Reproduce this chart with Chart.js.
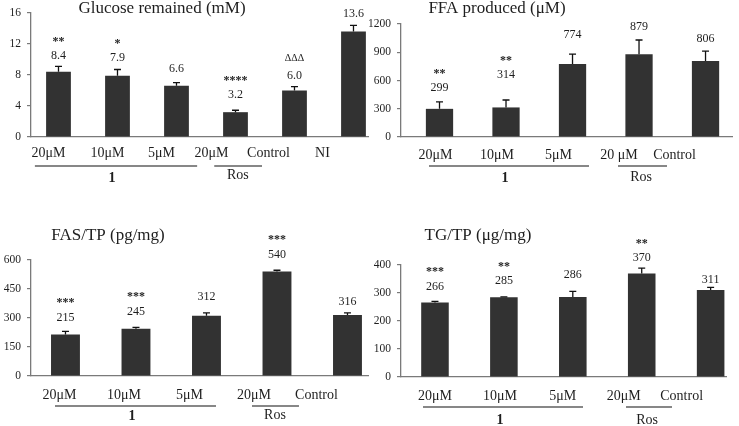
<!DOCTYPE html>
<html>
<head>
<meta charset="utf-8">
<script src="https://cdn.jsdelivr.net/npm/chart.js@4"></script>
<style>
  html, body { margin: 0; padding: 0; background: #ffffff; }
  #wrap { position: relative; width: 739px; height: 426px; overflow: hidden; }
  #wrap canvas { position: absolute; left: 0; top: 0; }
</style>
</head>
<body>
<div id="wrap">
  <canvas id="c1" width="739" height="426"></canvas>
  <canvas id="c2" width="739" height="426"></canvas>
  <canvas id="c3" width="739" height="426"></canvas>
  <canvas id="c4" width="739" height="426"></canvas>
</div>
<script>
// ---------------- DATA ----------------
const glucoseTitle = 'Glucose remained (mM)';
const glucoseCats = ['20μM', '10μM', '5μM', '20μM', 'Control', 'NI'];
const glucoseVals = [8.4, 7.9, 6.6, 3.2, 6.0, 13.6];
const glucoseErr  = [0.7, 0.8, 0.4, 0.25, 0.5, 0.8];
const glucoseSig  = ['**', '*', '', '****', 'ΔΔΔ', ''];
const glucoseTicks = [0, 4, 8, 12, 16];

const ffaTitle = 'FFA produced (μM)';
const ffaCats = ['20μM', '10μM', '5μM', '20 μM', 'Control'];
const ffaVals = [299, 314, 774, 879, 806];
const ffaErr  = [73, 79, 107, 151, 107];
const ffaSig  = ['**', '**', '', '', ''];
const ffaTicks = [0, 300, 600, 900, 1200];

const fasTitle = 'FAS/TP (pg/mg)';
const fasCats = ['20μM', '10μM', '5μM', '20μM', 'Control'];
const fasVals = [215, 245, 312, 540, 316];
const fasErr  = [16, 7, 14, 7, 10];
const fasSig  = ['***', '***', '', '***', ''];
const fasTicks = [0, 150, 300, 450, 600];

const tgTitle = 'TG/TP (μg/mg)';
const tgCats = ['20μM', '10μM', '5μM', '20μM', 'Control'];
const tgVals = [266, 285, 286, 370, 311];
const tgErr  = [4, 1, 20, 19, 9];
const tgSig  = ['***', '**', '', '**', ''];
const tgTicks = [0, 100, 200, 300, 400];

// group annotations: compound "1" spans first three categories, "Ros" the fourth
const groupNames = ['1', 'Ros'];

// ---------------- STYLE / LAYOUT ----------------
const SERIF = '"Liberation Serif", "DejaVu Serif", "Times New Roman", serif';
const AXIS_COLOR = '#7a7a7a';
const BAR_COLOR = '#323232';
const TEXT_COLOR = '#1e1e1e';

const panels = [
  {
    id: 'c1', title: glucoseTitle, cats: glucoseCats, vals: glucoseVals, err: glucoseErr, sig: glucoseSig, ticks: glucoseTicks,
    decimals: 1, yWidth: 30,
    pad: { left: 1, right: 371, top: 7, bottom: 289 },
    xMin: -0.466, xMax: 5.246, barPct: 0.42,
    titlePos: { x: 162, y: 9 },
    labelLift: [11, 12, 14, 15, 11, 11], sigLift: 17,
    xLabelShift: [-10, -10, -15, -24, -26, -31], xLabelDrop: 16,
    groups: [ { from: -0.40, to: 2.35, at: 0.906, lineDrop: 29, textDrop: 41, bold: true },
              { from: 2.64, to: 3.45, at: 3.04, lineDrop: 29, textDrop: 38, bold: false } ]
  },
  {
    id: 'c2', title: ffaTitle, cats: ffaCats, vals: ffaVals, err: ffaErr, sig: ffaSig, ticks: ffaTicks,
    decimals: 0, yWidth: 40,
    pad: { left: 361, right: 7, top: 24, bottom: 289 },
    xMin: -0.579, xMax: 4.398, barPct: 0.41,
    titlePos: { x: 497, y: 9 },
    labelLift: [14, 25, 19, 13, 12], sigLift: 17,
    xLabelShift: [-4, -9, -14, -20, -31], xLabelDrop: 18,
    groups: [ { from: -0.158, to: 2.248, at: 0.985, lineDrop: 29, textDrop: 41, bold: true },
              { from: 2.684, to: 3.421, at: 3.03, lineDrop: 29, textDrop: 40, bold: false } ]
  },
  {
    id: 'c3', title: fasTitle, cats: fasCats, vals: fasVals, err: fasErr, sig: fasSig, ticks: fasTicks,
    decimals: 0, yWidth: 30,
    pad: { left: 1, right: 371, top: 260, bottom: 50 },
    xMin: -0.489, xMax: 4.291, barPct: 0.41,
    titlePos: { x: 108, y: 236 },
    labelLift: [13, 15, 16, 15, 11], sigLift: 18,
    xLabelShift: [-6, -12, -17, -23, -31], xLabelDrop: 19,
    groups: [ { from: -0.149, to: 2.135, at: 0.943, lineDrop: 30, textDrop: 40, bold: true },
              { from: 2.645, to: 3.312, at: 2.972, lineDrop: 30, textDrop: 39, bold: false } ]
  },
  {
    id: 'c4', title: tgTitle, cats: tgCats, vals: tgVals, err: tgErr, sig: tgSig, ticks: tgTicks,
    decimals: 0, yWidth: 40,
    pad: { left: 361, right: 13, top: 265, bottom: 49 },
    xMin: -0.493, xMax: 4.223, barPct: 0.40,
    titlePos: { x: 478, y: 236 },
    labelLift: [15, 16, 16, 10, 8], sigLift: 17,
    xLabelShift: [0, -4, -10, -18, -29], xLabelDrop: 19,
    groups: [ { from: -0.174, to: 2.148, at: 0.943, lineDrop: 30, textDrop: 43, bold: true },
              { from: 2.772, to: 3.44, at: 3.077, lineDrop: 30, textDrop: 43, bold: false } ]
  }
];

const annotatePlugin = {
  id: 'annotate',
  afterDatasetsDraw(chart, args, opts) {
    const p = opts.panel;
    const ctx = chart.ctx;
    const ys = chart.scales.y;
    const meta = chart.getDatasetMeta(0);
    ctx.save();
    meta.data.forEach((el, i) => {
      const v = p.vals[i], e = p.err[i];
      const xc = el.x;
      const yBar = ys.getPixelForValue(v);
      const yErr = ys.getPixelForValue(v + e);
      // error bar (upper only)
      ctx.strokeStyle = '#111';
      ctx.lineWidth = 1.3;
      ctx.beginPath();
      ctx.moveTo(xc, yBar);
      ctx.lineTo(xc, yErr);
      ctx.moveTo(xc - 3.5, yErr);
      ctx.lineTo(xc + 3.5, yErr);
      ctx.stroke();
      // value label
      ctx.fillStyle = TEXT_COLOR;
      ctx.textAlign = 'center';
      ctx.textBaseline = 'middle';
      ctx.font = '12px ' + SERIF;
      const ly = yErr - p.labelLift[i];
      ctx.fillText(v.toFixed(p.decimals), xc, ly);
      // significance marks
      if (p.sig[i]) {
        const isDelta = p.sig[i].indexOf('Δ') >= 0;
        ctx.font = (isDelta ? '10px ' : 'bold 12px ') + SERIF;
        ctx.fillText(p.sig[i], xc, ly - p.sigLift + (isDelta ? 0 : 3));
      }
    });
    ctx.restore();
  },
  afterDraw(chart, args, opts) {
    const p = opts.panel;
    const ctx = chart.ctx;
    const xs = chart.scales.x, ys = chart.scales.y;
    const base = ys.getPixelForValue(0);
    ctx.save();
    ctx.fillStyle = TEXT_COLOR;
    ctx.textAlign = 'center';
    ctx.textBaseline = 'middle';
    // category labels
    ctx.font = '14px ' + SERIF;
    p.cats.forEach((c, i) => {
      ctx.fillText(c, xs.getPixelForValue(i) + p.xLabelShift[i], base + p.xLabelDrop);
    });
    // group lines and names
    p.groups.forEach((g, k) => {
      ctx.strokeStyle = '#111';
      ctx.lineWidth = 1.2;
      ctx.beginPath();
      ctx.moveTo(xs.getPixelForValue(g.from), base + g.lineDrop);
      ctx.lineTo(xs.getPixelForValue(g.to), base + g.lineDrop);
      ctx.stroke();
      ctx.font = (g.bold ? 'bold 14px ' : '14px ') + SERIF;
      ctx.fillText(groupNames[k], xs.getPixelForValue(g.at), base + g.textDrop);
    });
    // title
    ctx.font = '17px ' + SERIF;
    ctx.fillText(p.title, p.titlePos.x, p.titlePos.y);
    ctx.restore();
  }
};

panels.forEach(p => {
  new Chart(document.getElementById(p.id), {
    type: 'bar',
    data: {
      datasets: [{
        data: p.vals.map((v, i) => ({ x: i, y: v })),
        backgroundColor: BAR_COLOR,
        borderWidth: 0,
        barPercentage: p.barPct,
        categoryPercentage: 1.0
      }]
    },
    options: {
      responsive: false,
      animation: false,
      devicePixelRatio: 1,
      layout: { padding: p.pad },
      plugins: {
        legend: { display: false },
        tooltip: { enabled: false },
        title: { display: false },
        annotate: { panel: p }
      },
      scales: {
        x: {
          type: 'linear',
          offset: false,
          min: p.xMin,
          max: p.xMax,
          grid: { display: false },
          ticks: { display: false },
          border: { display: true, color: AXIS_COLOR, width: 1.3 },
          afterFit: s => { s.height = 0; }
        },
        y: {
          type: 'linear',
          min: p.ticks[0],
          max: p.ticks[p.ticks.length - 1],
          afterBuildTicks: s => { s.ticks = p.ticks.map(v => ({ value: v })); },
          grid: { display: true, drawOnChartArea: false, drawTicks: true, tickLength: 4, color: AXIS_COLOR, lineWidth: 1.2 },
          border: { display: true, color: AXIS_COLOR, width: 1.3 },
          ticks: { color: TEXT_COLOR, font: { family: SERIF, size: 11.5 }, padding: 6, callback: v => String(v) },
          afterFit: s => { s.width = p.yWidth; }
        }
      }
    },
    plugins: [annotatePlugin]
  });
});
</script>
</body>
</html>
